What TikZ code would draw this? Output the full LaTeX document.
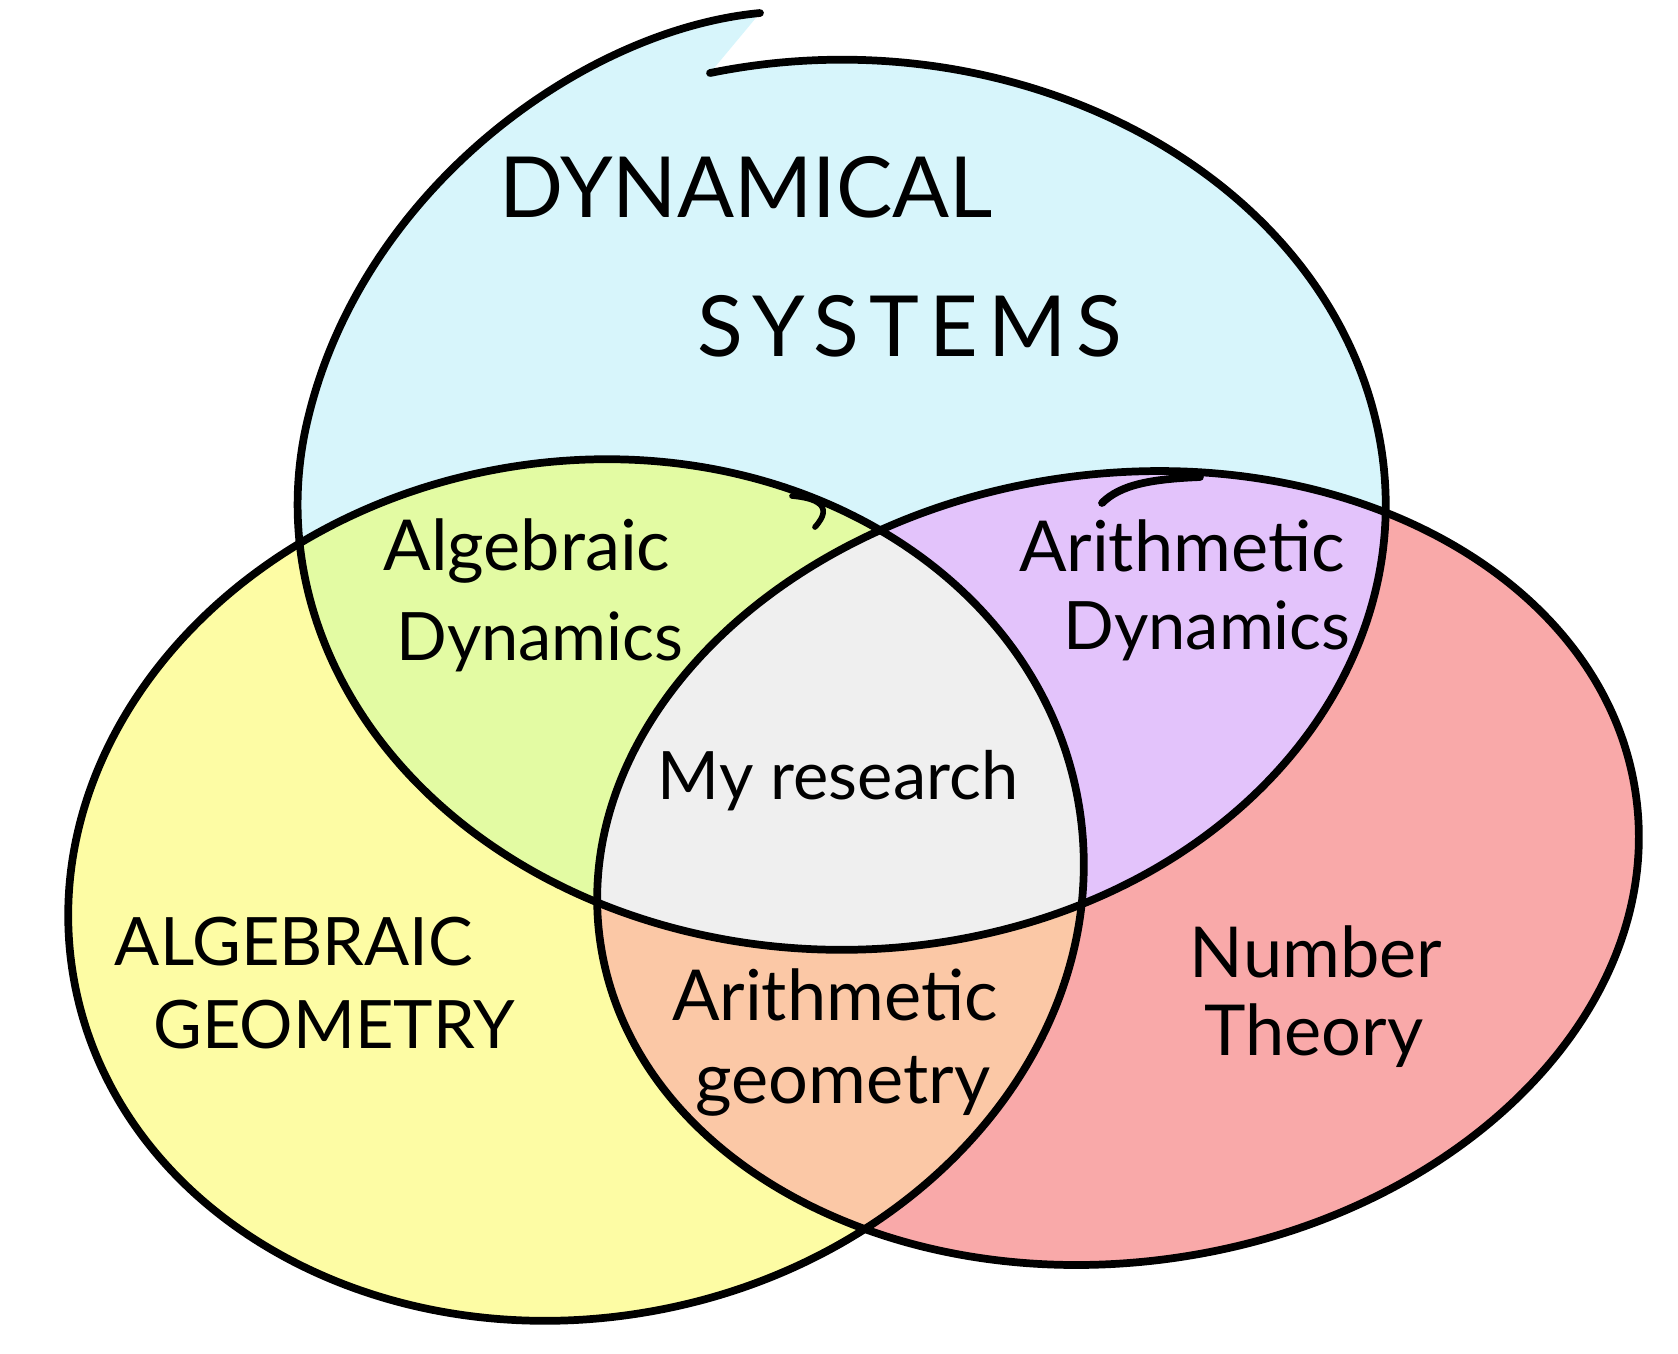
\documentclass[tikz,border=0pt]{standalone}
\usepackage{fontspec}
\setmainfont{Lato}
\newfontfamily\wideletters{Lato}[LetterSpace=12]
\usepackage{tikz}
\usetikzlibrary{positioning}

\definecolor{dynblue}{HTML}{D7F5FB}
\definecolor{geoyellow}{HTML}{FDFCA4}
\definecolor{ntred}{HTML}{F9A9A9}
\definecolor{adgreen}{HTML}{E3FBA3}
\definecolor{arpurple}{HTML}{E3C3FB}
\definecolor{agpeach}{HTML}{FBC8A6}
\definecolor{resgrey}{HTML}{EFEFEF}

% the three sets (the top one is drawn in one open pen stroke)
\newcommand{\dynstroke}{(7.10,-0.73) arc [start angle=104, end angle=-190, x radius=5.44, y radius=4.45]
  .. controls (3.57,-1.94) and (5.80,-0.30) .. (7.60,-0.13)}
\newcommand{\dynset}{\dynstroke -- cycle}
\newcommand{\geoset}{[shift={(5.76,-8.90)}, rotate=10] (0,0) ellipse (5.10 and 4.28)}
\newcommand{\ntset}{[shift={(11.18,-8.68)}, rotate=8] (0,0) ellipse (5.23 and 3.94)}

\begin{document}
\begin{tikzpicture}[
    outline/.style={draw=black, line width=2.2pt, line cap=round},
    title/.style={font=\fontsize{24}{28}\selectfont, inner sep=0pt},
    label/.style={font=\fontsize{20}{24}\selectfont, inner sep=0pt},
  ]
\useasboundingbox (0,0) rectangle (16.78,-13.53);

% single sets
\fill[dynblue] \dynset;
\fill[geoyellow] \geoset;
\fill[ntred] \ntset;

% pairwise overlaps
\begin{scope}
  \clip \dynset;
  \fill[adgreen] \geoset;
  \fill[arpurple] \ntset;
\end{scope}
\begin{scope}
  \clip \geoset;
  \fill[agpeach] \ntset;
\end{scope}
\begin{scope}
  \clip \dynset;
  \clip \geoset;
  \fill[resgrey] \ntset;
\end{scope}

% outlines
\draw[outline] \dynstroke;
\draw[outline] \geoset;
\draw[outline] \ntset;

% loose pen strokes
\coordinate (hooka) at (7.92,-4.96);
\coordinate (hookb) at (8.15,-5.27);
\draw[outline, line width=1.6pt] (hooka) .. controls (8.15,-4.98) and (8.35,-5.05) .. (hookb);
\coordinate (ntstroke) at (11.02,-5.03);
\coordinate (ntjoin) at (12.0,-4.77);
\draw[outline] (ntstroke) .. controls (11.2,-4.85) and (11.5,-4.79) .. (ntjoin);

% labels
\node[title] (dynamical) at (7.46,-1.87) {DYNAMICAL};
\node[title, font=\fontsize{24}{28}\wideletters] (systems) at (9.10,-3.26) {SYSTEMS};

\node[label] (algdyn1) at (5.27,-5.51) {Algebraic};
\node[label, font=\fontsize{19}{23}\selectfont] (algdyn2) at (5.40,-6.42) {Dynamics};

\node[label] (aritdyn1) at (11.82,-5.46) {Arithmetic};
\node[label, font=\fontsize{19}{23}\selectfont] (aritdyn2) at (12.07,-6.31) {Dynamics};

\node[label, font=\fontsize{19}{23}\selectfont] (research) at (8.38,-7.81) {My research};

\node[label, font=\fontsize{19}{23}\selectfont] (alggeo1) at (2.94,-9.42) {ALGEBRAIC};
\node[label, font=\fontsize{19}{23}\selectfont] (alggeo2) at (3.34,-10.25) {GEOMETRY};

\node[label] (aritgeo1) at (8.35,-9.95) {Arithmetic};
\node[label] (aritgeo2) at (8.43,-10.86) {geometry};

\node[label] (number) at (13.16,-9.52) {Number};
\node[label] (theory) at (13.14,-10.36) {Theory};
\end{tikzpicture}
\end{document}
